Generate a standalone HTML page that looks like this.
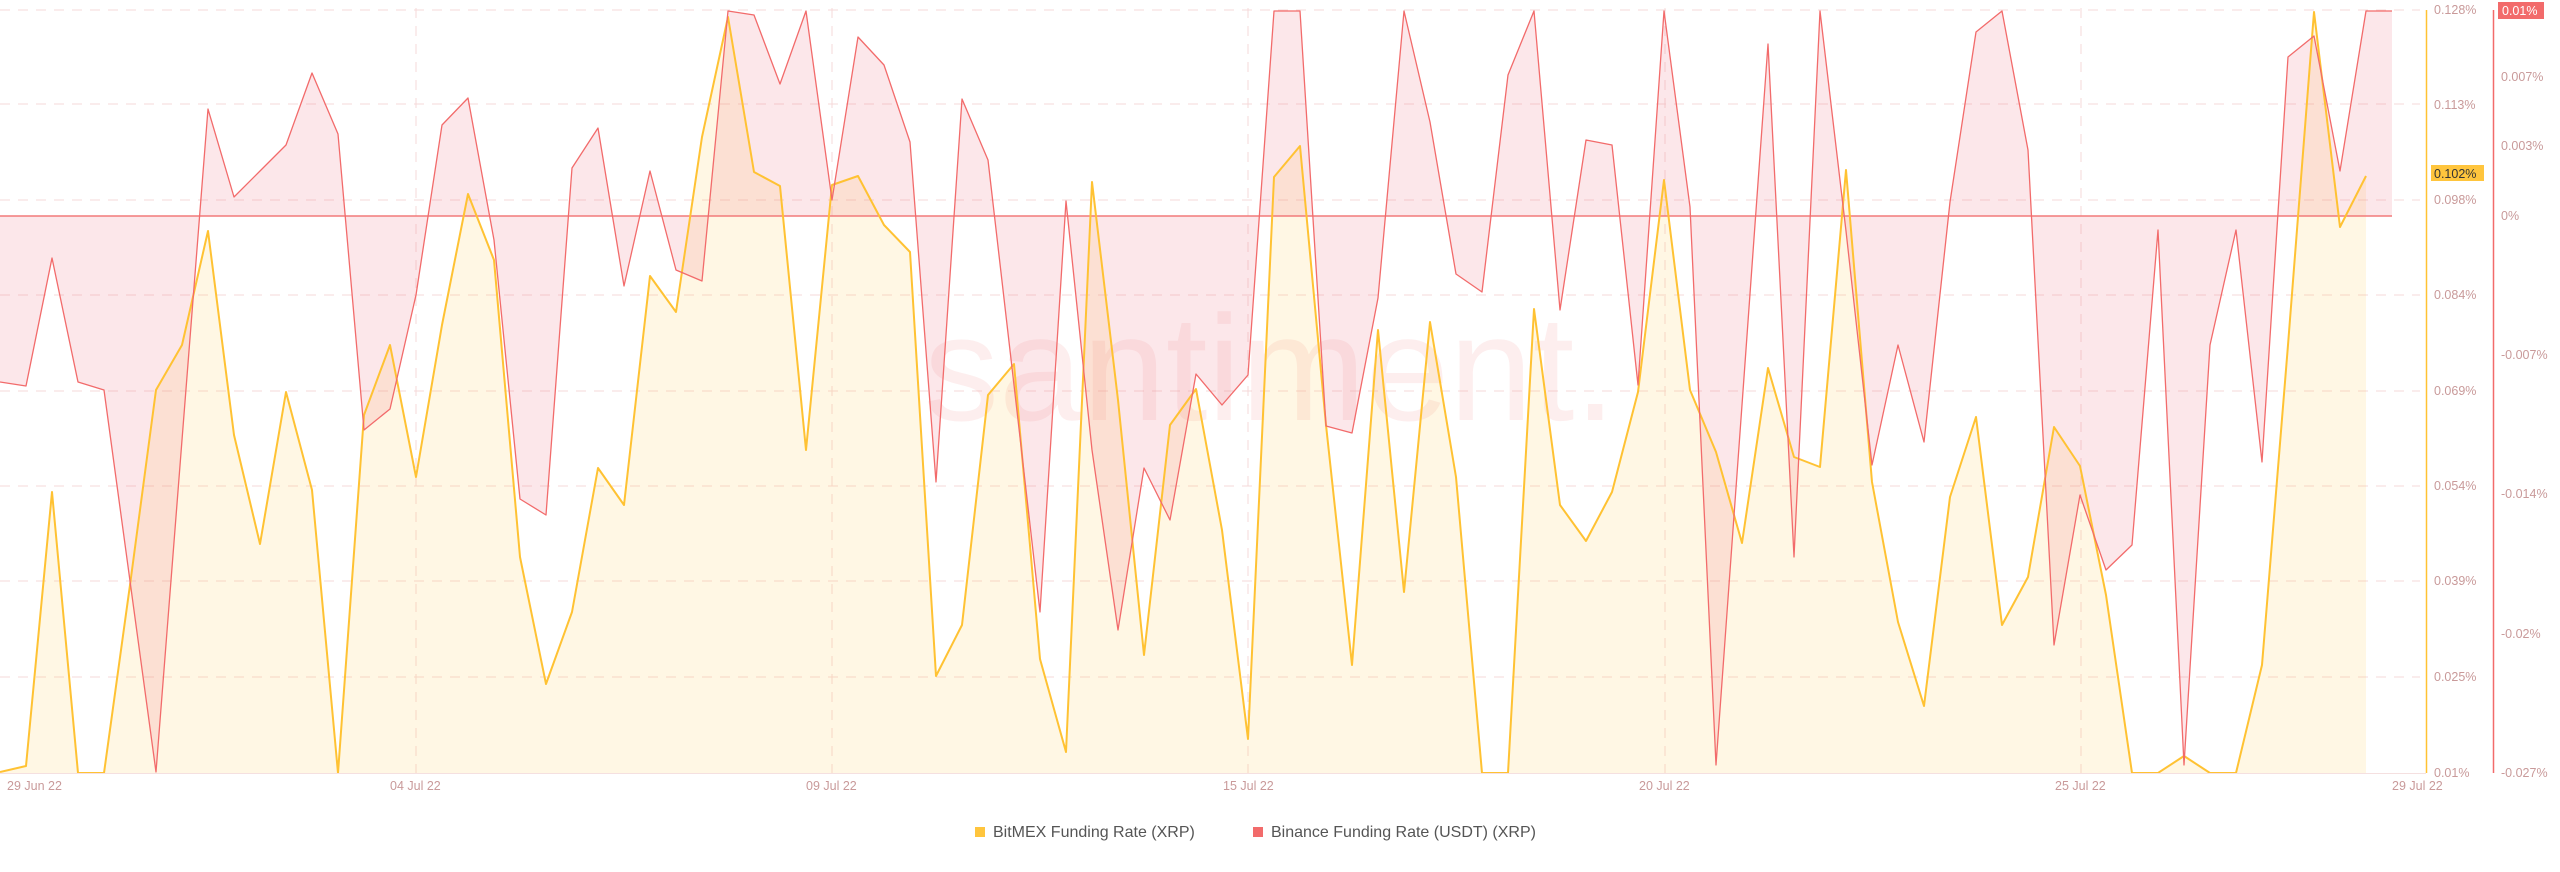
<!DOCTYPE html>
<html><head><meta charset="utf-8"><style>
html,body{margin:0;padding:0;background:#fff;}
body{width:2560px;height:867px;overflow:hidden;font-family:"Liberation Sans",sans-serif;}
</style></head><body>
<svg width="2560" height="867" viewBox="0 0 2560 867" xmlns="http://www.w3.org/2000/svg" font-family="Liberation Sans, sans-serif">
<g stroke="#f6d9d9" stroke-width="1" stroke-dasharray="10,8">
<line x1="0" y1="10" x2="2420" y2="10"/><line x1="0" y1="104" x2="2420" y2="104"/><line x1="0" y1="200" x2="2420" y2="200"/><line x1="0" y1="295" x2="2420" y2="295"/><line x1="0" y1="391" x2="2420" y2="391"/><line x1="0" y1="486" x2="2420" y2="486"/><line x1="0" y1="581" x2="2420" y2="581"/><line x1="0" y1="677" x2="2420" y2="677"/>
<line x1="416" y1="8" x2="416" y2="773"/><line x1="832" y1="8" x2="832" y2="773"/><line x1="1248" y1="8" x2="1248" y2="773"/><line x1="1665" y1="8" x2="1665" y2="773"/><line x1="2081" y1="8" x2="2081" y2="773"/>
</g>
<text x="1270" y="420" font-size="150" fill="#f6a0a0" fill-opacity="0.18" text-anchor="middle">santiment.</text>
<polygon fill="#ffc53d" fill-opacity="0.14" points="0,773 0,772 26,766 52,492 78,773 104,773 130,585 156,390 182,345 208,231 234,435 260,544 286,392 312,490 338,773 364,415 390,345 416,477 442,325 468,194 494,260 520,557 546,684 572,612 598,468 624,505 650,276 676,312 702,137 728,17 754,172 780,186 806,450 832,185 858,176 884,225 910,252 936,676 962,625 988,395 1014,364 1040,659 1066,752 1092,182 1118,400 1144,655 1170,425 1196,389 1222,530 1248,739 1274,177 1300,146 1326,425 1352,665 1378,330 1404,592 1430,322 1456,477 1482,773 1508,773 1534,309 1560,505 1586,541 1612,492 1638,392 1664,180 1690,390 1716,452 1742,543 1768,368 1794,457 1820,467 1846,170 1872,482 1898,622 1924,706 1950,497 1976,417 2002,625 2028,577 2054,427 2080,466 2106,595 2132,773 2158,773 2184,756 2210,773 2236,773 2262,665 2288,345 2314,12 2340,227 2366,176 2366,773"/>
<polygon fill="#f07080" fill-opacity="0.17" points="0,216 0,382 26,386 52,258 78,382 104,390 130,581 156,772 182,440 208,109 234,197 260,171 286,145 312,73 338,134 364,430 390,409 416,295 442,125 468,98 494,240 520,499 546,515 572,168 598,128 624,286 650,171 676,270 702,281 728,11 754,15 780,84 806,11 832,200 858,37 884,65 910,142 936,482 962,99 988,160 1014,385 1040,612 1066,201 1092,450 1118,630 1144,468 1170,520 1196,374 1222,405 1248,375 1274,11 1300,11 1326,426 1352,433 1378,298 1404,11 1430,122 1456,274 1482,292 1508,75 1534,11 1560,310 1586,140 1612,145 1638,385 1664,11 1690,207 1716,765 1742,405 1768,44 1794,557 1820,11 1846,231 1872,465 1898,345 1924,442 1950,202 1976,32 2002,11 2028,150 2054,645 2080,495 2106,570 2132,545 2158,230 2184,765 2210,345 2236,230 2262,462 2288,57 2314,36 2340,171 2366,11 2392,11 2392,216"/>
<line x1="0" y1="216" x2="2392" y2="216" stroke="#f27a7a" stroke-width="1.5"/>
<polyline fill="none" stroke="#ffc233" stroke-width="2" stroke-linejoin="round" points="0,772 26,766 52,492 78,773 104,773 130,585 156,390 182,345 208,231 234,435 260,544 286,392 312,490 338,773 364,415 390,345 416,477 442,325 468,194 494,260 520,557 546,684 572,612 598,468 624,505 650,276 676,312 702,137 728,17 754,172 780,186 806,450 832,185 858,176 884,225 910,252 936,676 962,625 988,395 1014,364 1040,659 1066,752 1092,182 1118,400 1144,655 1170,425 1196,389 1222,530 1248,739 1274,177 1300,146 1326,425 1352,665 1378,330 1404,592 1430,322 1456,477 1482,773 1508,773 1534,309 1560,505 1586,541 1612,492 1638,392 1664,180 1690,390 1716,452 1742,543 1768,368 1794,457 1820,467 1846,170 1872,482 1898,622 1924,706 1950,497 1976,417 2002,625 2028,577 2054,427 2080,466 2106,595 2132,773 2158,773 2184,756 2210,773 2236,773 2262,665 2288,345 2314,12 2340,227 2366,176"/>
<polyline fill="none" stroke="#f26b6b" stroke-width="1.3" stroke-linejoin="round" points="0,382 26,386 52,258 78,382 104,390 130,581 156,772 182,440 208,109 234,197 260,171 286,145 312,73 338,134 364,430 390,409 416,295 442,125 468,98 494,240 520,499 546,515 572,168 598,128 624,286 650,171 676,270 702,281 728,11 754,15 780,84 806,11 832,200 858,37 884,65 910,142 936,482 962,99 988,160 1014,385 1040,612 1066,201 1092,450 1118,630 1144,468 1170,520 1196,374 1222,405 1248,375 1274,11 1300,11 1326,426 1352,433 1378,298 1404,11 1430,122 1456,274 1482,292 1508,75 1534,11 1560,310 1586,140 1612,145 1638,385 1664,11 1690,207 1716,765 1742,405 1768,44 1794,557 1820,11 1846,231 1872,465 1898,345 1924,442 1950,202 1976,32 2002,11 2028,150 2054,645 2080,495 2106,570 2132,545 2158,230 2184,765 2210,345 2236,230 2262,462 2288,57 2314,36 2340,171 2366,11 2392,11"/>
<line x1="0" y1="773.5" x2="2426" y2="773.5" stroke="#f5e0e0" stroke-width="1"/>
<line x1="2426.5" y1="10" x2="2426.5" y2="773" stroke="#ffc233" stroke-width="1.5"/>
<line x1="2493.5" y1="10" x2="2493.5" y2="773" stroke="#f26b6b" stroke-width="1.5"/>
<g font-size="12.5" fill="#c99a9a">
<text x="2434" y="14">0.128%</text><text x="2434" y="109">0.113%</text><text x="2434" y="204">0.098%</text><text x="2434" y="299">0.084%</text><text x="2434" y="395">0.069%</text><text x="2434" y="490">0.054%</text><text x="2434" y="585">0.039%</text><text x="2434" y="681">0.025%</text><text x="2434" y="777">0.01%</text>
<text x="2501" y="81">0.007%</text><text x="2501" y="150">0.003%</text><text x="2501" y="220">0%</text><text x="2501" y="359">-0.007%</text><text x="2501" y="498">-0.014%</text><text x="2501" y="638">-0.02%</text><text x="2501" y="777">-0.027%</text>
<text x="7" y="790">29 Jun 22</text><text x="390" y="790">04 Jul 22</text><text x="806" y="790">09 Jul 22</text><text x="1223" y="790">15 Jul 22</text><text x="1639" y="790">20 Jul 22</text><text x="2055" y="790">25 Jul 22</text><text x="2392" y="790">29 Jul 22</text>
</g>
<rect x="2431" y="165" width="53" height="16" fill="#ffc53d"/>
<text x="2434" y="178" font-size="12.5" fill="#333">0.102%</text>
<rect x="2498" y="2" width="46" height="17" fill="#f26b6b"/>
<text x="2502" y="15" font-size="12.5" fill="#fff">0.01%</text>
<rect x="975" y="827" width="10" height="10" fill="#ffc53d"/>
<text x="993" y="837" font-size="16" fill="#555">BitMEX Funding Rate (XRP)</text>
<rect x="1253" y="827" width="10" height="10" fill="#f26b6b"/>
<text x="1271" y="837" font-size="16" fill="#555">Binance Funding Rate (USDT) (XRP)</text>
</svg>
</body></html>
